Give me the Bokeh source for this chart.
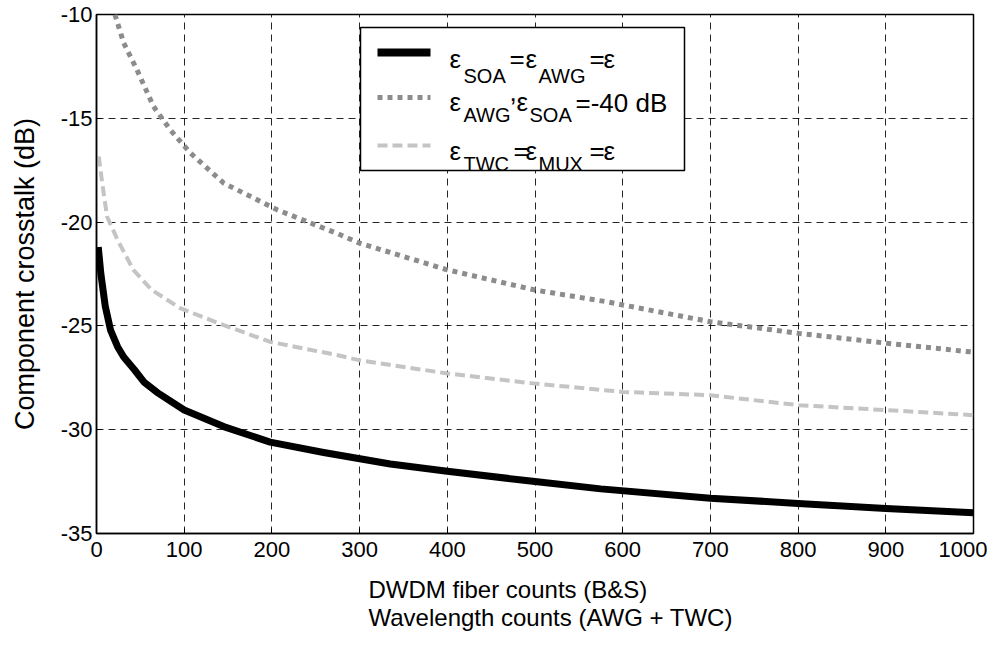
from bokeh.plotting import figure
from bokeh.models import Range1d, Title, FixedTicker
from bokeh.embed import file_html
from bokeh.resources import INLINE
from bokeh.core.properties import value

# ---- data ----
x_ticks = [0, 100, 200, 300, 400, 500, 600, 700, 800, 900, 1000]
y_ticks = [-35, -30, -25, -20, -15, -10]

# eps_SOA = eps_AWG = eps  (thick black)
x_solid = [2, 5, 10, 16, 24, 31, 43, 54, 69, 100, 145, 198, 259, 335, 400, 500, 575, 700, 800, 900, 1000]
y_solid = [-21.2, -22.5, -24.05, -25.2, -26.0, -26.5, -27.1, -27.7, -28.2, -29.05, -29.85, -30.6,
           -31.1, -31.65, -32.0, -32.5, -32.85, -33.3, -33.55, -33.8, -34.0]

# eps_AWG, eps_SOA = -40 dB  (gray dotted)
x_dot = [21, 31, 46, 65, 84, 107, 145, 206, 274, 299, 400, 500, 582, 600, 700, 801, 902, 996, 1000]
y_dot = [-10.0, -11.37, -12.65, -14.43, -15.55, -16.67, -18.12, -19.41, -20.54, -21.0, -22.3, -23.27,
         -23.84, -23.99, -24.8, -25.36, -25.84, -26.25, -26.27]

# eps_TWC = eps_MUX = eps  (light gray dashed)
x_dash = [2.6, 6.5, 12, 24, 42, 63, 96, 145, 198, 274, 299, 400, 500, 600, 700, 801, 902, 1000]
y_dash = [-16.84, -18.12, -19.73, -20.86, -22.3, -23.27, -24.16, -24.96, -25.77, -26.4, -26.65,
          -27.29, -27.78, -28.18, -28.34, -28.82, -29.06, -29.3]

y_label = "Component crosstalk (dB)"
x_label_1 = "DWDM fiber counts (B&S)"
x_label_2 = "Wavelength counts (AWG + TWC)"

FONT = "Liberation Sans"
FW, FH = 877, 519

p = figure(frame_width=FW, frame_height=FH, output_backend="svg", toolbar_location=None,
           x_range=Range1d(0, 1000), y_range=Range1d(-35, -10),
           min_border_left=96, min_border_right=14, min_border_top=14, min_border_bottom=60,
           background_fill_color="white", border_fill_color="white")

p.outline_line_color = "black"
p.outline_line_width = 1.5
p.outline_line_alpha = 1.0

for ax in (p.xaxis, p.yaxis):
    ax.major_label_text_font = FONT
    ax.major_label_text_font_size = "22px"
    ax.major_label_text_color = "black"
    ax.axis_line_color = "black"
    ax.axis_line_width = 1.5
    ax.major_tick_in = 5
    ax.major_tick_out = 0
    ax.major_tick_line_color = "black"
    ax.minor_tick_line_color = None
    ax.axis_label_text_font = FONT
    ax.axis_label_text_font_style = "normal"
    ax.axis_label_text_color = "black"

p.xaxis.ticker = FixedTicker(ticks=x_ticks)
p.yaxis.ticker = FixedTicker(ticks=y_ticks)
p.yaxis.major_label_overrides = {t: str(t) for t in y_ticks}
p.xaxis.major_label_standoff = 8
p.yaxis.major_label_standoff = 4
p.yaxis.axis_label = y_label
p.yaxis.axis_label_text_font_size = "27px"
p.yaxis.axis_label_standoff = 18

for g in (p.xgrid, p.ygrid):
    g.grid_line_color = "black"
    g.grid_line_dash = "7 5"
    g.grid_line_width = 1
    g.grid_line_alpha = 0.85

# two-line x caption, left aligned as in the reference
xcap = Title(text=x_label_1 + "\n" + x_label_2, align="left", offset=272, text_font=FONT,
             text_font_size="24px", text_font_style="normal", text_color="black",
             text_line_height=1.05, standoff=30)
p.add_layout(xcap, "below")

# curves
p.line(x_dash, y_dash, line_color="#c4c4c4", line_width=4, line_dash="10 5")
p.line(x_dot, y_dot, line_color="#8c8c8c", line_width=5, line_dash="5 5")
p.line(x_solid, y_solid, line_color="black", line_width=7, line_join="round")

# ---- legend drawn in frame-pixel coordinates (y measured down from frame top) ----
p.extra_x_ranges = {"px": Range1d(0, FW)}
p.extra_y_ranges = {"px": Range1d(FH, 0)}
kw = dict(x_range_name="px", y_range_name="px")

p.quad(left=[264], right=[588], top=[13], bottom=[156], fill_color="white",
       line_color="black", line_width=1.5, **kw)
p.line([281, 334], [38, 38], line_color="black", line_width=8, **kw)
p.line([281, 334], [83, 83], line_color="#8c8c8c", line_width=5, line_dash="5 5", **kw)
p.line([281, 334], [131, 131], line_color="#c4c4c4", line_width=4, line_dash="10 5", **kw)

main_x = [353, 413, 429, 493, 507, 353, 413, 420, 479, 353, 417, 429, 493, 507]
main_y = [44, 44, 44, 44, 44, 87, 77, 87, 88, 136, 136, 136, 136, 136]
main_t = ["ε", "=", "ε", "=", "ε", "ε", ",", "ε", "=-40 dB", "ε", "=", "ε", "=", "ε"]
sub_x = [367, 442, 367, 433, 367, 442]
sub_y = [61, 61, 100, 100, 149, 149]
sub_t = ["SOA", "AWG", "AWG", "SOA", "TWC", "MUX"]

p.text(main_x, main_y, text=main_t, text_font=value(FONT), text_font_size="26px",
       text_color="black", text_align="left", text_baseline="alphabetic", **kw)
p.text(sub_x, sub_y, text=sub_t, text_font=value(FONT), text_font_size="20px",
       text_color="black", text_align="left", text_baseline="alphabetic", **kw)

open("out.html", "w").write(file_html(p, INLINE))
